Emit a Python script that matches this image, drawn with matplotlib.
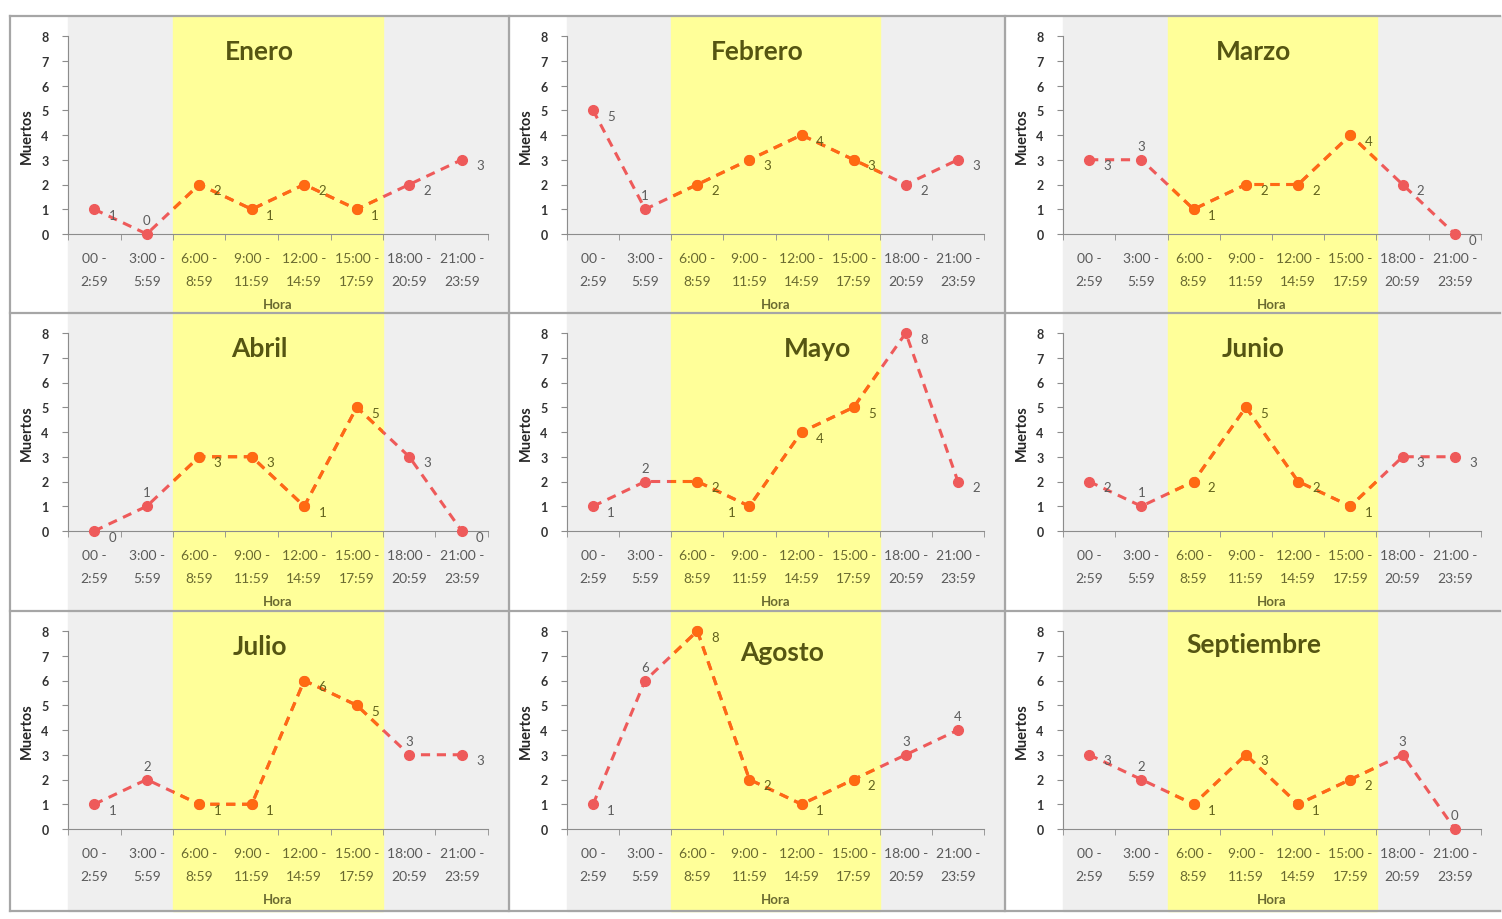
import matplotlib
matplotlib.use("Agg")
import matplotlib.pyplot as plt
import matplotlib.transforms as mtransforms
from matplotlib.patches import Rectangle
from matplotlib.lines import Line2D

plt.rcParams['font.family'] = ['Lato', 'DejaVu Sans']

# data
meses = ['Enero', 'Febrero', 'Marzo', 'Abril', 'Mayo', 'Junio',
         'Julio', 'Agosto', 'Septiembre']
horas = ['00 -\n2:59', '3:00 -\n5:59', '6:00 -\n8:59', '9:00 -\n11:59',
         '12:00 -\n14:59', '15:00 -\n17:59', '18:00 -\n20:59', '21:00 -\n23:59']
enero = [1, 0, 2, 1, 2, 1, 2, 3]
febrero = [5, 1, 2, 3, 4, 3, 2, 3]
marzo = [3, 3, 1, 2, 2, 4, 2, 0]
abril = [0, 1, 3, 3, 1, 5, 3, 0]
mayo = [1, 2, 2, 1, 4, 5, 8, 2]
junio = [2, 1, 2, 5, 2, 1, 3, 3]
julio = [1, 2, 1, 1, 6, 5, 3, 3]
agosto = [1, 6, 8, 2, 1, 2, 3, 4]
septiembre = [3, 2, 1, 3, 1, 2, 3, 0]
series = [enero, febrero, marzo, abril, mayo, junio, julio, agosto, septiembre]

# label placement tweaks (index -> 'above' / 'left'), default is right
label_pos = {
    'Enero': {1: 'above'},
    'Febrero': {1: 'above'},
    'Marzo': {1: 'above'},
    'Abril': {1: 'above'},
    'Mayo': {1: 'above', 3: 'left'},
    'Junio': {1: 'above'},
    'Julio': {1: 'above', 6: 'above'},
    'Agosto': {1: 'above', 6: 'above', 7: 'above'},
    'Septiembre': {1: 'above', 6: 'above', 7: 'above'},
}
title_shift = {'Mayo': (60, 0), 'Agosto': (25, 6), 'Septiembre': (0, -2)}

W, H = 1502, 920
fig = plt.figure(figsize=(W / 100, H / 100), dpi=100)

cols = [(10, 509), (509, 1005), (1005, 1502)]
rows = [(17, 314), (314, 612), (612, 912)]

RED = '#ee5a5a'
ORANGE = '#ff6a12'
GRAY_BG = '#efefef'
YELLOW = '#ffff99'
OLIVE = '#62621c'
TXT = '#5c5c5c'


def fx(px):
    return px / W


def fy(py):
    return 1 - py / H


for k, (mes, vals) in enumerate(zip(meses, series)):
    L, R = cols[k % 3]
    T, B = rows[k // 3]
    axL, axR, axT, axB = L + 58, R - 21, T + 20, T + 218
    ax = fig.add_axes([fx(axL), fy(axB), fx(axR - axL), (axB - axT) / H])
    ax.set_facecolor('none')
    ax.set_xlim(-0.5, 7.5)
    ax.set_ylim(0, 8)

    # backgrounds
    fig.patches.append(Rectangle((fx(axL), fy(B)), fx(R - axL), (B - T) / H,
                                 transform=fig.transFigure, color=GRAY_BG,
                                 zorder=-3, figure=fig))
    bt = mtransforms.blended_transform_factory(ax.transData, fig.transFigure)
    fig.patches.append(Rectangle((1.5, fy(B)), 4, (B - T) / H, transform=bt,
                                 color=YELLOW, zorder=-2, figure=fig))

    x = range(len(vals))
    ax.plot(x, vals, color=RED, lw=2.2, ls=(0, (3, 2.2)), marker='o',
            ms=7, zorder=3, clip_on=False)
    clip = Rectangle((1.5, -2), 4, 12, transform=ax.transData)
    ln, = ax.plot(x, vals, color=ORANGE, lw=2.2, ls=(0, (3, 2.2)), marker='o',
                  ms=7, zorder=4)
    ln.set_clip_path(clip)

    for i, v in enumerate(vals):
        pos = label_pos[mes].get(i, 'right')
        off = {'right': (13, -4), 'above': (0, 10), 'left': (-13, -4)}[pos]
        col = OLIVE if 2 <= i <= 5 else TXT
        ax.annotate(str(v), (i, v), xytext=off, textcoords='offset points',
                    ha='center', va='center', fontsize=9.5, color=col,
                    zorder=5, annotation_clip=False)

    # axes styling
    for s in ['top', 'right']:
        ax.spines[s].set_visible(False)
    ax.spines['left'].set_color('#8c8c8c')
    ax.spines['bottom'].set_color('#8c8c8c')
    ax.set_yticks(range(9))
    ax.tick_params(axis='y', length=4, color='#8c8c8c', labelsize=9,
                   labelcolor='#333333', pad=10)
    for t in ax.get_yticklabels():
        t.set_fontweight('bold')
    ax.set_xticks(range(8))
    ax.set_xticklabels(horas, linespacing=2.05)
    ax.set_xticks([i - 0.5 for i in range(9)], minor=True)
    ax.tick_params(axis='x', which='major', length=0, labelsize=10,
                   labelcolor='#5a5a5a', pad=13)
    ax.tick_params(axis='x', which='minor', length=4, color='#8c8c8c')
    for i, t in enumerate(ax.get_xticklabels()):
        if 2 <= i <= 5:
            t.set_color('#6a6a30')
    ax.set_xlabel('Hora', fontsize=9.5, fontweight='bold', color='#6a6a30',
                  labelpad=8)
    ax.set_ylabel('Muertos', fontsize=10.5, fontweight='bold', color='#262626',
                  labelpad=5)

    dx, dy = title_shift.get(mes, (0, 0))
    fig.text(fx((L + R) / 2 + dx), fy(T + 35 + dy), mes, ha='center',
             va='center', fontsize=19, fontweight='bold', color='#555512')

# panel borders
bc = '#a6a6a6'
for xv in [10, 509, 1005]:
    fig.lines.append(Line2D([fx(xv), fx(xv)], [fy(17), fy(912)], color=bc,
                            lw=1.6, transform=fig.transFigure, figure=fig))
for yv in [17, 314, 612, 912]:
    fig.lines.append(Line2D([fx(10), fx(1500)], [fy(yv), fy(yv)], color=bc,
                            lw=1.6, transform=fig.transFigure, figure=fig))

fig.savefig('out.png', dpi=100)
